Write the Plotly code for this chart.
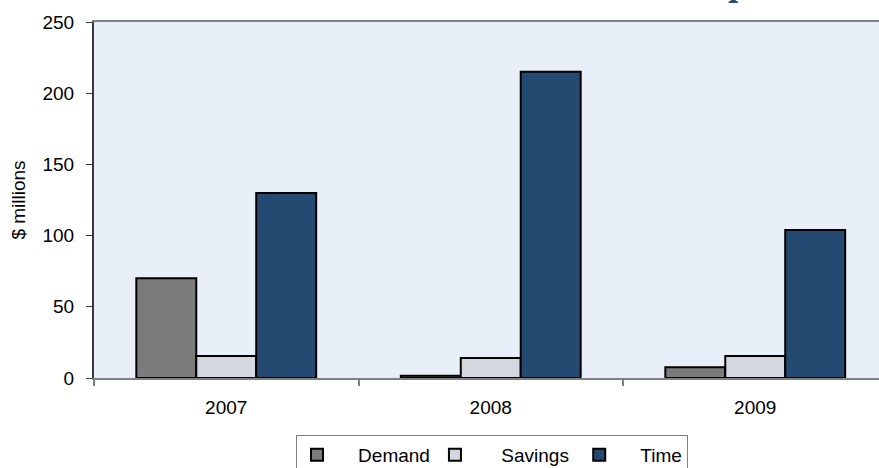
import plotly.graph_objects as go

years = ["2007", "2008", "2009"]
demand = [70, 1.5, 7.5]
savings = [15.5, 14, 15.5]
time_vals = [130, 215, 104]

series_names = ["Demand", "Savings", "Time"]
series_colors = ["#7b7b7b", "#d3d7df", "#244a72"]
y_ticks = [0, 50, 100, 150, 200, 250]

FONT = "Arial, Liberation Sans, sans-serif"
nb = "\u00a0"
legend_labels = [nb * 4 + series_names[0], nb * 5 + series_names[1] + nb, nb * 4 + series_names[2]]

fig = go.Figure()
for vals, col, label in zip([demand, savings, time_vals], series_colors, legend_labels):
    fig.add_trace(go.Bar(
        x=years, y=vals, name=label,
        marker=dict(color=col, line=dict(color="#000000", width=2)),
    ))

W, H = 879, 468
ml, mt, mb = 94, 22, 90
plot_w = W - ml
plot_h = H - mt - mb
px_per_cat = 264.5

fig.update_layout(
    width=W, height=H,
    margin=dict(l=ml, r=0, t=mt, b=mb, pad=0, autoexpand=False),
    paper_bgcolor="#ffffff",
    plot_bgcolor="#e9eff8",
    barmode="group",
    bargap=0.32,
    bargroupgap=0,
    font=dict(family=FONT, size=19, color="#000000"),
    showlegend=True,
    legend=dict(
        orientation="h",
        x=(296 - ml) / plot_w, xanchor="left",
        y=(378 - 435) / plot_h, yanchor="top",
        bgcolor="#ffffff",
        bordercolor="#808080", borderwidth=1,
        font=dict(family=FONT, size=19, color="#000000"),
        traceorder="normal",
    ),
    xaxis=dict(
        type="category",
        automargin=False,
        range=[-0.5, -0.5 + plot_w / px_per_cat],
        showgrid=False, zeroline=False,
        showline=True, linecolor="#808080", linewidth=2,
        mirror=True,
        ticks="outside", tickson="boundaries", ticklen=6, tickcolor="#808080", tickwidth=2,
        ticklabelstandoff=11,
        tickfont=dict(family=FONT, size=19, color="#000000"),
    ),
    yaxis=dict(
        automargin=False,
        range=[0, 250],
        tickvals=y_ticks,
        showgrid=False, zeroline=False,
        showline=True, linecolor="#3a3a3a", linewidth=2,
        ticks="outside", ticklen=6, tickcolor="#3a3a3a", tickwidth=1,
        ticklabelstandoff=8,
        tickfont=dict(family=FONT, size=19, color="#000000"),
        title=dict(text="$ millions", font=dict(family=FONT, size=19, color="#000000"), standoff=12),
    ),
)

fig.add_annotation(
    text="<b>p</b>", xref="paper", yref="paper",
    x=(738 - ml) / plot_w, y=1 + (mt + 13) / plot_h,
    xanchor="center", yanchor="middle", showarrow=False,
    font=dict(family="Georgia, DejaVu Serif, serif", size=28, color="#1f4e79"),
)

fig.write_html(
    "out.html",
    config={"displayModeBar": False},
    post_script="document.body.style.margin='0';document.body.style.overflow='hidden';",
)
